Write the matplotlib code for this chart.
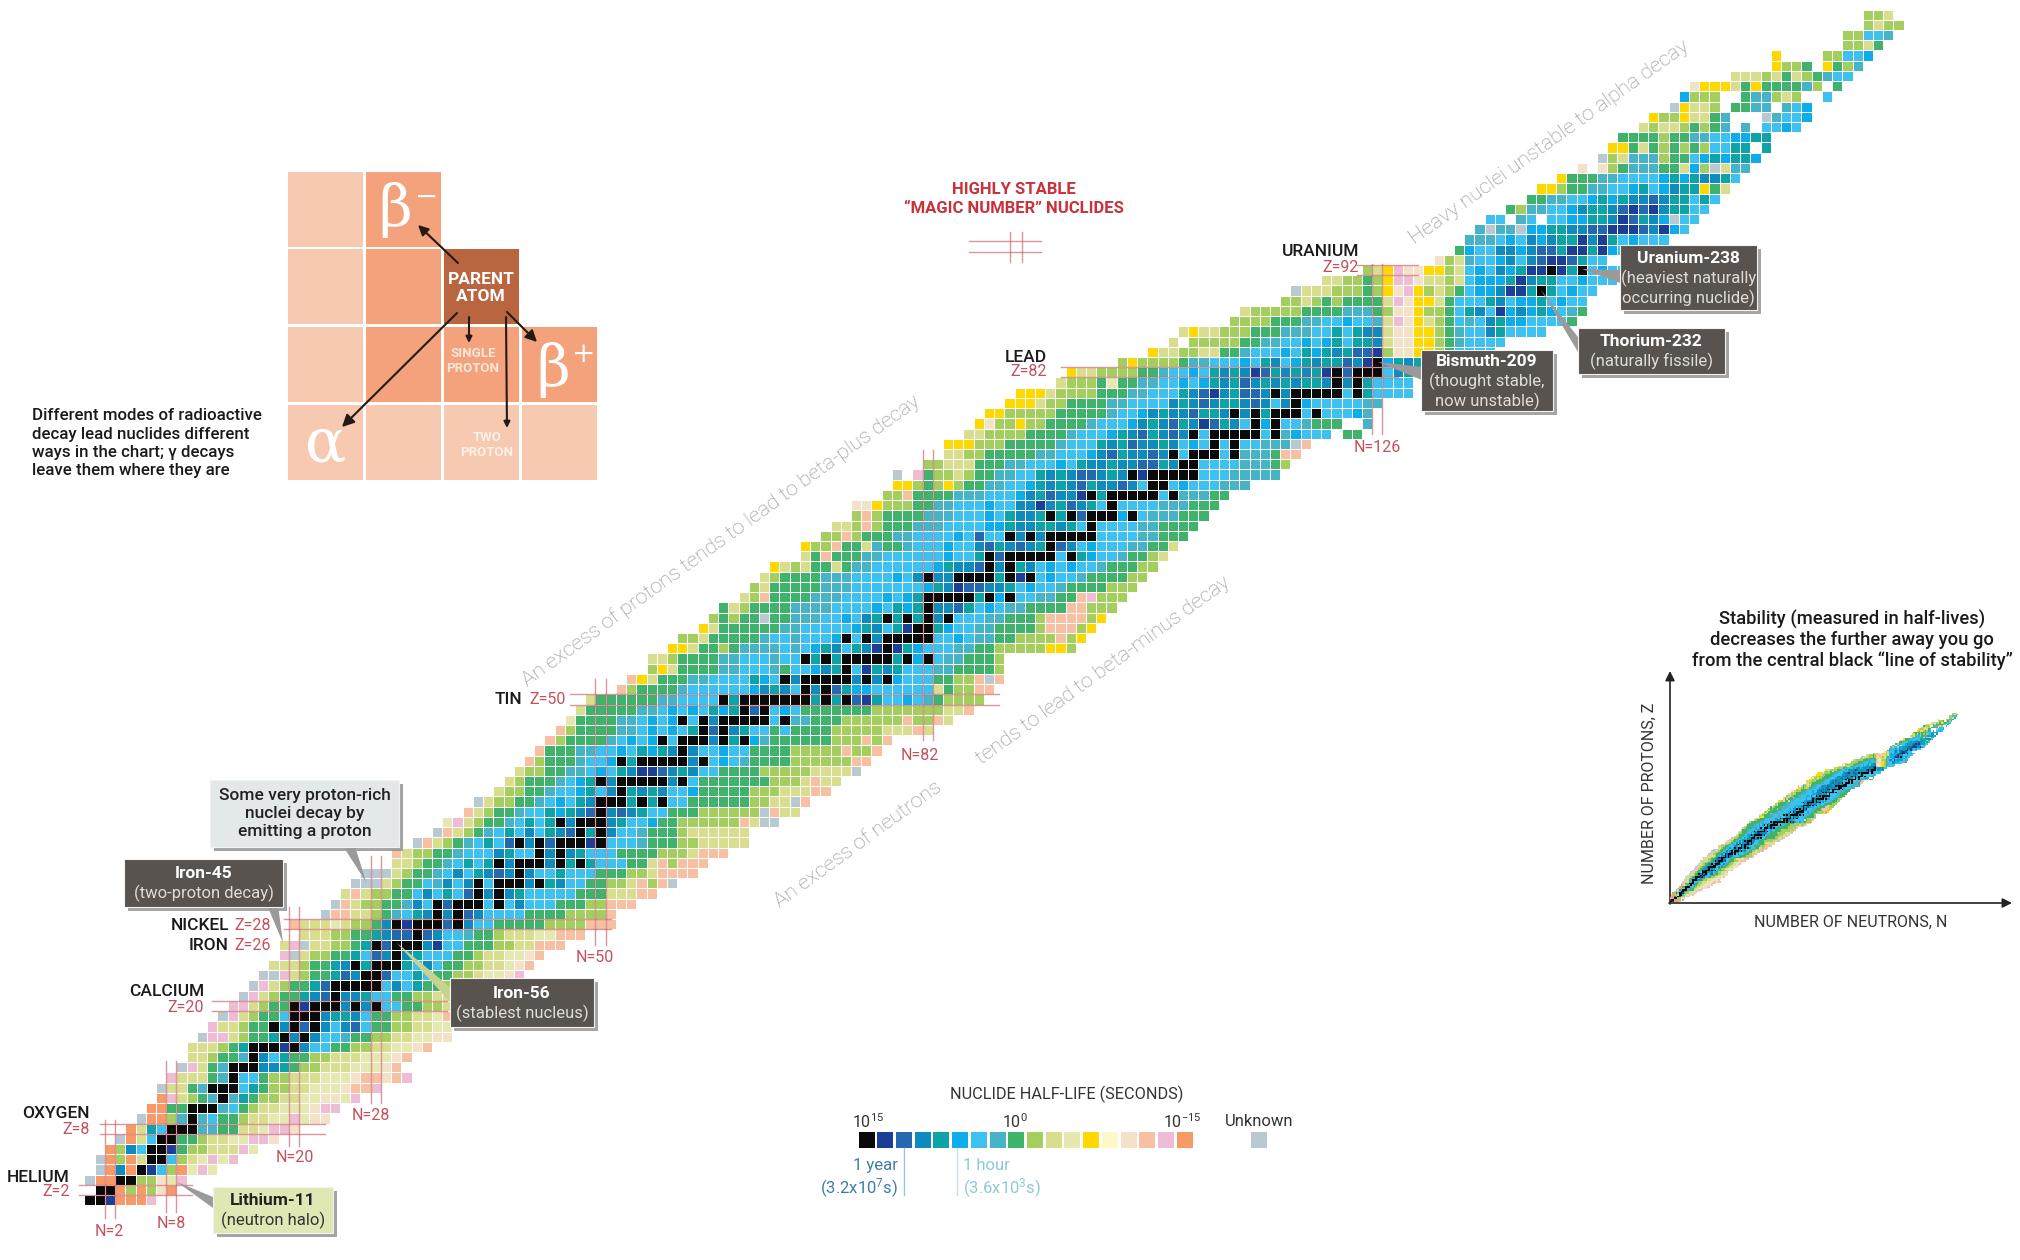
import numpy as np
import matplotlib
matplotlib.use('Agg')
import matplotlib.pyplot as plt
from matplotlib.colors import ListedColormap
from matplotlib.patches import Rectangle, Polygon

plt.rcParams['font.family'] = ['Roboto', 'DejaVu Sans']
plt.rcParams['mathtext.default'] = 'regular'

# half-life classes, longest to shortest, as in the colour key
code_letters = 'KNBCTASLGMOPYWEFRHU'
code_colors = ['#0a0a0a', '#1b3f96', '#2469b0', '#0f8bbd', '#0ea3a6', '#0cadea', '#3cc1f0',
               '#46b4c6', '#3fb26c', '#a4cf5e', '#d8de8e', '#e6e8b2', '#ffd800', '#fdf8c6',
               '#f4e2c8', '#f8c0a2', '#eebcd4', '#f89a68', '#b8c9d2']

# first neutron number of every row, index 0 is Z=1
n_first = [0, 1, 0, 1, 1, 2, 3, 4, 5, 6, 7, 7, 8, 9, 10, 10, 11, 12, 13, 14,
           15, 16, 17, 18, 19, 19, 21, 20, 23, 24, 25, 26, 27, 30, 30, 32, 34, 35, 37, 38,
           40, 41, 42, 43, 44, 45, 46, 47, 48, 49, 52, 53, 55, 55, 57, 58, 60, 61, 62, 64,
           65, 66, 67, 70, 70, 72, 73, 75, 75, 78, 79, 79, 82, 84, 84, 86, 87, 88, 90, 91,
           95, 96, 101, 104, 106, 107, 112, 113, 117, 118, 121, 125, 132, 134, 135, 136, 137, 139, 141, 142,
           144, 146, 148, 149, 150, 152, 153, 155, 156, 157, 161, 165, 165, 172, 172, 174, 174]

# half-life class of each nuclide along a row, index 0 is Z=1 ('.' = nothing drawn)
half_life_rows = [
    'KKNHHHR', 'KKHMHMEH', 'UHHKKMMEPR', 'UHCHKNSMHPRP', 'UHMHOKKSMOPRPR',
    'HMCSKKNGMMOOORP', 'UHOSKKGGMOOPPRRE', 'HOTSKKKLLGGOOPRRE', 'UHHMLKLSGGMOOPPRPEE', 'HHGGKKKLSGMOOPPPERR',
    'HROMGLKLTGMMOOPPEEPR', 'UOOGLKKKSTGMMOOPPPEFFR', 'ROOOGLKSSGMMOOOPPPEFFEFR', 'UROGLKKKCCTGMMOOOPPPEF', 'OOMGGLKCSTGGMMOOOPPPEF',
    'OOOMGTKKKNKCSSGGMMOOPPEF', 'URROMGGTKCKCSSLGGMMOOPPEE', 'ROOMGGKCKBKCSCBSGGMMOOPP', 'UROMGGSKKKCTTCSGGMMOOPF', 'RROMGGKNKKKCKCKSSGGMMOOPF',
    'UROMGGTCBKCCTSSGGMMOOPPEE', 'UROMGGTBKKKKKSCSTGGMMOOPEE', 'UUROMGGTBCKKBSSTSGGMMOPPER', 'OOOMGGTCKTKKKTSCSGGMMOOPEF', 'RUOMMGGTSBCKCTSSSGGMOOPPEF',
    'ORUOOMMGTKBKKKCNSSGGGMMOOFFF', 'OOOMMGGTCBBKBCSSLGGMOOOPPFFF', 'FOOOPOMMGCKNKKKBK CSSGGGGGMMMMFFF', 'UFFOOMGLSTCKCKBCSSS SGGGGMMMMF', 'UFOMMGGLCSKBKKKSKSCSS SGGGMMFFF',
    'OFOMMGGSCSTSBKCKCTSSS SSGGGOOOFF', 'UUUOMGGSLCSCKSKKKCKTCSS GGMMOFMFU', 'UUUOMGGLSCSTCBCKCSSTSSS GGGMMOFFFF', 'OOMGGLSTSTKCKKKCKTKTSS SGGOFMFFF', 'FOMMGGLSSSCTSSKCKCTSS SGGGGMMMOFFF',
    'UFOMGLSTSBKCKBKKKNK SSSLGGGMMOOOOO',
    'UFOMG LSTSCSTC BKTK CSSLGGGMOOOOOO',
    'PROMG GLSTS TACBB CCT SSAGGMMMMMMFOUU',
    'FOMGG LSSTA TCBCC BCTSS GGGMMMMMMUFOO',
    'UOMMG GLSAS TCBBT TCTCS SGGGGGGMMOOUF',
    'OMMGG LSSAT SCBTC TCSSA GGGGGMMMOOOFF',
    'OMGGG LSATS CCTBT TCTS GGGGGGGMMMOFOO',
    'OMMGG LLSAS TCNNB CTCS SGGGGMMMMMOOOOU',
    'FMGGG LSSAS TTCTC TCBSA SLGGGGMMMMMMFF',
    'FGGGL LSSAS TATCB CSSAS SGGGGMMMMMFMMF',
    'FMGGG GLSAS ATSTC TCSTS ALGGGGGGMMMFMF',
    'FMGGG GLLSA SASTC BCCTS SGSGGGGMMMMMOOOFO',
    'PGGGG LLSAS ATSTC CTCTS SALLGGGMMMMMMFMMFO',
    'OGGGG GLLSA SASTA TCBBS ASGGGGGGGMMMMMMMOOF',
    'OGGGG GGLLS SSSAT CCCCC CCTCT CBNTS SASLG MMMM',
    'FMGGG GLSSS SSSAC TCSAC TBTAA SSSSS SOGMMFF',
    'FYOGG GLLSS SSTAS TCCCC CCCBC TASSS GGMMFUF',
    'MYOGG GGLLS SSLGS SACTS SNTCT SSSLLGGGGM',
    'OOMGG GGLLS SSLSS ATCTC TCCNT SASSLLGGGM',
    'YYOGG MGLLL LSLSA TCSTC NCNTA SSSLLGGMMMMMYYM',
    'MMOGG GGGLS SLSSS ACSTC NBCCT SSASLLGGMMMMFMY',
    'YOGGG GGGLL SSSSS ATCST NCTTA SSLLGGGGMFFFMY',
    'MGMGG UGGLL LSSAS CTSTC TCCBS SSLLGGGMFFFFMY',
    'GOMGG GGLLL LSSSS ASTAT TCCBT SASLLGGGGFFMMM',
    'OMFGG GGLLL SSSSA SATCT TCBTC ASSSLLGGFRMMM',
    'MOGGG GGLLL SSSSS SSATC NBBCC TSASSLGGGGMMM',
    'OMGGG GLLLS SSSAS CTCCN BNBTC NCSASSLGGGGMM',
    'YOMOG GOGLL SSSSS SATCC BBCCT CSASASSLGGGMM',
    'OGFGG GLLSS SSSSA SSTCB TCBCB SSTASSLGGMO',
    'YMMFG GOLGG LSSSA SSCBT CBCTT BCSASSSLLGGO',
    'MMFMG GGLLS SSSAS BSSBC NCBTTASSSSSLLGGG',
    'OOMFM GGGLL LSSSS AATCC TTCTSASSSSLLGGGG',
    'MFMGG GGLLL SSSAS TCCTC TCBTS SASSLLLGGG',
    'EEYMM MGGLL SSSAS SCCNC TBCTS ASSSSLLLGGG',
    'MMFGG GGLLL SSSAC TBCCN CTNTS ASSSLLLGG',
    'YYMGM YMGGL LSSAT CTCBT CCBCS CCSAS SSLLL',
    'U.RGM MOMGG LLSST CTCBB CTCCN TSASS SSSLL LLL',
    'MMOOO GGGLL SSSAS TCCTC CBBTC SASSSSLLLGM',
    'OOMMG GGGGL LSSSA CBTCC BCTSA SSSSLLLGFF',
    'YYYMM MGGGG GLSSS TCTBC CTCSA SSSSSSLLLUF',
    'OOMMM MGGGG LSSSA TCBTC BCTSA SSSSS BLASS S.GG',
    'YEMMY MMGGG GLSSS ACTCB TCNBT CSSAS SSLGG G..L',
    'YYMMM MMGGG GGLSS ACTCC BTTCS CTTCA SSSSS SAL',
    'YYYOM MGGGG LLSSS SCTCB CTTCB CSCSA SSSSS LL',
    'YYYOM MMMGG GLLSS STCBN CTBBC TCTSC ASSCT SSSS',
    'OMMMG PGGLL SSASA TCTBC TCTCT TCTCB TSSSS',
    'YOOMM MMGGL SSAST CTCNB TCTCT NCBCN NSCTA C',
    'MYMMM MGLLS SSAST CSATC TTBCN NATCT TSS',
    'YOOMM OOGGL SSSAS TATCT BBN MEEYY MGSSS S',
    'O.MMM MMGGL LSSAS ATSTT C OEEYY MGLSS SS',
    'OYOOM MMGGG LLLSS TSTCC OEEYY MGLSS CTSSS S',
    'MMMMG GGLLS SASSL OREYO MGSLS CTAAS SSSG',
    'OMMMM MGGGG LLLG MEEYM MGSTC SNACA TASLG',
    'MMOMG MGGGG OREYY OGSSS TCSAA TSASS',
    'UOOOM MMGMY ERYMO MGSAA CNNTT TSASS',
    'OOMMG MYRRE OOMOS AAATN CTTSS ASSS',
    'MOYRE EYYMO SASCA TNNKN TKSAS S',
    'EMOLSSACSCBNNBTSS', 'GASSCCACBBTNNTNASS', 'LLLSASCACTTNCNTSASSS', 'LULLUAATTCCBBNNNBCNAS', 'SS.LS.SSAATTCNBTCAUSS',
    'GMLLSSACTTCBNBNCTTSS', 'GGLLSSATATCCBCTTSTS', 'YYMGGLLSSATSACTTYGO', 'YGGGLLSSSSATATCCTS', 'E.EMGLLLGGOAMUOLL',
    'UMOLLLMGGSATATTA', 'YYGOGMGMGMSSTT.T', 'GGGGMGGLLSSAATT', 'OMOOMGMGL.L.SSAS', 'YMMYOOGL...ULSSA',
    'UYOOM.GGLL.LSA', 'AMMM..GLLMOM..S', 'EYYYOGYGGGGLM.G', 'OOOMOGOMGLSS', 'YMMG.YGML',
    'Y....MMSSA', 'MMOG', 'MMSSL', 'MOMM', 'MMO',
]

# stable (black) neutron numbers for the rows where they need setting
stable_z = [20, 22, 23, 24, 25, 26, 27, 28, 29, 30, 31, 32, 33, 34, 35, 36, 37, 38, 39, 40, 41, 42,
            44, 45, 46, 47, 48, 49, 50, 51, 52, 53, 54, 55, 56, 57, 58, 59, 60, 62, 63, 64, 65, 66,
            67, 68, 69, 70, 71, 72, 73, 74, 75, 76, 77, 78, 79, 80, 81, 82, 83, 90, 92]
stable_n = [
    [20, 22, 23, 24, 26, 28], [24, 25, 26, 27, 28], [27, 28], [26, 28, 29, 30], [30], [28, 30, 31, 32], [32],
    [30, 32, 33, 34, 36], [34, 36], [34, 36, 37, 38, 40], [38, 40], [38, 40, 41, 42, 44], [42],
    [40, 42, 43, 44, 46, 48], [44, 46], [42, 44, 46, 47, 48, 50], [48, 50], [46, 48, 49, 50], [50],
    [50, 51, 52, 54, 56], [52], [50, 52, 53, 54, 55, 56, 58], [52, 54, 55, 56, 57, 58, 60], [58],
    [56, 58, 59, 60, 62, 64], [60, 62], [58, 60, 62, 63, 64, 65, 66, 68], [64, 66],
    [62, 64, 65, 66, 67, 68, 69, 70, 72, 74], [70, 72], [68, 70, 71, 72, 73, 74, 76, 78], [74],
    [70, 72, 74, 75, 76, 77, 78, 80, 82], [78], [74, 76, 78, 79, 80, 81, 82], [81, 82], [78, 80, 82, 84], [82],
    [82, 83, 84, 85, 86, 88, 90], [82, 85, 86, 87, 88, 90, 92], [88, 90], [88, 90, 91, 92, 93, 94, 96], [94],
    [90, 92, 94, 95, 96, 97, 98], [98], [94, 96, 98, 99, 100, 102], [100], [98, 100, 101, 102, 103, 104, 106],
    [104, 105], [102, 104, 105, 106, 107, 108], [107, 108], [106, 108, 109, 110, 112], [110, 112],
    [108, 110, 111, 112, 113, 114, 116], [114, 116], [112, 114, 116, 117, 118, 120], [118], [116, 118, 119, 120, 121, 122, 124],
    [122, 124], [122, 124, 125, 126], [126], [142], [143, 146],
]

magic_z = [2, 8, 20, 28, 50, 82, 92]
magic_z_from = [-1, 1, 12, 19, 47, 95, 124]
magic_z_to = [10, 23, 35, 51, 89, 128, 130]
magic_n = [2, 8, 20, 28, 50, 82, 126]
magic_n_from = [-0.7, -0.2, 6.3, 10.5, 26, 46, 76]
magic_n_to = [8.8, 14.6, 29.7, 34.7, 52, 74.4, 92.6]

# build the N/Z table
table = np.full((119, 179), np.nan)
for i, row in enumerate(half_life_rows):
    row = row.replace(' ', '')
    for j, c in enumerate(row):
        if c != '.':
            table[i + 1, n_first[i] + j] = code_letters.index(c)
for z, ns in zip(stable_z, stable_n):
    for n in ns:
        table[z, n] = 0
cells = np.ma.masked_invalid(table)
cmap = ListedColormap(code_colors)

fig = plt.figure(figsize=(20.2, 12.6), dpi=100, facecolor='white')

# main chart, one cell = 10.22 px
ax = fig.add_axes([0, 0, 1, 1])
ax.set_xlim(-89.6 / 10.22, (2020 - 89.6) / 10.22)
ax.set_ylim((1210.4 - 1260) / 10.22, 1210.4 / 10.22)
ax.axis('off')
n_edges = np.arange(180) - 0.5
z_edges = np.arange(120) - 0.5
ax.pcolormesh(n_edges, z_edges, cells, cmap=cmap, vmin=-0.5, vmax=18.5,
              edgecolors='white', linewidth=0.7)

red = '#c4505c'
for z, a, b in zip(magic_z, magic_z_from, magic_z_to):
    ax.plot([a, b], [z - 0.5, z - 0.5], color=red, lw=1, alpha=0.6)
    ax.plot([a, b], [z + 0.5, z + 0.5], color=red, lw=1, alpha=0.6)
for n, a, b in zip(magic_n, magic_n_from, magic_n_to):
    ax.plot([n - 0.5, n - 0.5], [a, b], color=red, lw=1, alpha=0.6)
    ax.plot([n + 0.5, n + 0.5], [a, b], color=red, lw=1, alpha=0.6)

# everything else sits on a pixel overlay
ann = fig.add_axes([0, 0, 1, 1], facecolor='none')
ann.set_xlim(0, 2020)
ann.set_ylim(1260, 0)
ann.axis('off')


def txt(x, y, s, size=12, color='#222222', ha='center', weight='normal', **kw):
    ann.text(x, y, s, fontsize=size, color=color, ha=ha, va='center', fontweight=weight, **kw)


# element and magic number labels
element_labels = [('HELIUM', 70, 1177), ('OXYGEN', 90, 1114), ('CALCIUM', 204, 992), ('NICKEL', 229, 925),
                  ('IRON', 229, 945), ('TIN', 522, 700), ('LEAD', 1047, 357), ('URANIUM', 1359, 252)]
z_labels = [('Z=2', 70, 1192), ('Z=8', 90, 1129), ('Z=20', 204, 1007), ('Z=28', 271, 925),
            ('Z=26', 271, 945), ('Z=50', 566, 699), ('Z=82', 1047, 371), ('Z=92', 1359, 268)]
n_labels = [('N=2', 109, 1231), ('N=8', 171, 1224), ('N=20', 295, 1158), ('N=28', 371, 1115),
            ('N=50', 595, 957), ('N=82', 920, 755), ('N=126', 1377, 447)]
for s, x, y in element_labels:
    txt(x, y, s, size=12.5, ha='right', weight='medium', color='#1a1a1a')
for s, x, y in z_labels:
    txt(x, y, s, size=11.5, ha='right', color='#c4505c')
for s, x, y in n_labels:
    txt(x, y, s, size=11.5, color='#c4505c')

# grey diagonal notes
grey = '#8e8e8e'
txt(1549, 142, 'Heavy nuclei unstable to alpha decay', size=15.3, color=grey, weight='light', rotation=35.4, rotation_mode='anchor')
txt(721, 541, 'An excess of protons tends to lead to beta-plus decay', size=15.2, color=grey, weight='light', rotation=35.7, rotation_mode='anchor')
txt(858, 844, 'An excess of neutrons', size=15.2, color=grey, weight='light', rotation=36, rotation_mode='anchor')
txt(1103, 670, 'tends to lead to beta-minus decay', size=15.2, color=grey, weight='light', rotation=35.8, rotation_mode='anchor')

# magic number key
txt(1014, 199, 'HIGHLY STABLE\n\u201cMAGIC NUMBER\u201d NUCLIDES', size=12, color='#c8323c', weight='bold', linespacing=1.4)
for y in (241, 252):
    ann.plot([969, 1041], [y, y], color=red, lw=1, alpha=0.6)
for x in (1010, 1022):
    ann.plot([x, x], [232, 262], color=red, lw=1, alpha=0.6)

# decay mode diagram
pale, mid, parent = '#f6c9b0', '#f3a27c', '#b9653f'
col_x = [288, 366, 444, 522]
row_y = [172, 249, 327, 405]
decay_grid = [[pale, mid, None, None], [pale, mid, parent, None], [pale, mid, mid, mid], [pale, pale, pale, pale]]
for r, cols in enumerate(decay_grid):
    for c, col in enumerate(cols):
        if col:
            ann.add_patch(Rectangle((col_x[c], row_y[r]), 75, 75, facecolor=col, edgecolor='none'))
txt(395, 210, '\u03b2', size=42, color='white', family='DejaVu Serif')
txt(427, 197, '\u2212', size=20, color='white', family='DejaVu Serif')
txt(553, 370, '\u03b2', size=42, color='white', family='DejaVu Serif')
txt(584, 355, '+', size=20, color='white', family='DejaVu Serif')
txt(326, 445, '\u03b1', size=44, color='white', family='DejaVu Serif')
txt(481, 288, 'PARENT\nATOM', size=12.5, color='white', weight='bold', linespacing=1.2)
txt(473, 361, 'SINGLE\nPROTON', size=9.5, color='#fbe6da', weight='bold', linespacing=1.25)
txt(487, 445, 'TWO\nPROTON', size=9.5, color='#fdf0e8', weight='bold', linespacing=1.25)
for start, end, ms in [((458, 263), (418, 225), 15), ((457, 313), (342, 427), 18), ((469, 317), (469, 343), 9),
                       ((506, 317), (507, 428), 9), ((507, 312), (537, 342), 17)]:
    ann.annotate('', xy=end, xytext=start,
                 arrowprops=dict(arrowstyle='-|>', color='#231a16', lw=1.5, mutation_scale=ms, shrinkA=0, shrinkB=0))
txt(32, 443, 'Different modes of radioactive\ndecay lead nuclides different\nways in the chart; \u03b3 decays\nleave them where they are',
    size=12.2, ha='left', weight='medium', color='#1a1a1a', linespacing=1.25)


# callouts
def callout(x0, y0, x1, y1, tip, base, head, sub, face='#58534f', col='white', subcol='#dfdcd8', wedge=None):
    ann.add_patch(Rectangle((x0 + 4, y0 + 4), x1 - x0, y1 - y0, facecolor='#8e8e8e', edgecolor='none', alpha=0.8))
    ann.add_patch(Polygon([tip, base[0], base[1]], closed=True, facecolor=wedge or '#9a9a9a', edgecolor='none'))
    ann.add_patch(Rectangle((x0, y0), x1 - x0, y1 - y0, facecolor=face, edgecolor='#f2f2f2', lw=0.8))
    if sub:
        n_sub = sub.count('\n') + 1
        step = 19
        top = (y0 + y1) / 2 - step * n_sub / 2
        txt((x0 + x1) / 2, top, head, size=12.5, color=col, weight='bold')
        txt((x0 + x1) / 2, top + step * (n_sub + 1) / 2 + 1, sub, size=12, color=subcol, linespacing=1.2)
    else:
        txt((x0 + x1) / 2, (y0 + y1) / 2, head, size=12.5, color=col, weight='medium', linespacing=1.25)


callout(1620, 245, 1757, 310, (1582, 269), ((1620, 270), (1620, 283)), 'Uranium-238', '(heaviest naturally\noccurring nuclide)')
callout(1578, 328, 1725, 374, (1541, 290), ((1578, 337), (1578, 352)), 'Thorium-232', '(naturally fissile)')
callout(1421, 350, 1553, 411, (1378, 362), ((1422, 367), (1422, 380)), 'Bismuth-209', '(thought stable,\nnow unstable)')
callout(124, 859, 283, 907, (283, 943), ((267, 905), (278, 905)), 'Iron-45', '(two-proton decay)')
callout(450, 978, 594, 1027, (397, 943), ((450, 987), (450, 1002)), 'Iron-56', '(stablest nucleus)', wedge='#c4d48e')
callout(210, 780, 399, 847, (366, 882), ((343, 846), (355, 846)), 'Some very proton-rich\nnuclei decay by\nemitting a proton', None,
        face='#e3e8ea', col='#222222')
callout(213, 1187, 333, 1233, (177, 1182), ((213, 1197), (213, 1208)), 'Lithium-11', '(neutron halo)',
        face='#dfe8b4', col='#222222', subcol='#333333')

# colour key
key_x = 866.5 + 18.72 * np.arange(18)
for x, col in zip(key_x, code_colors[:18]):
    ann.add_patch(Rectangle((x - 8, 1132), 16, 16, facecolor=col, edgecolor='none'))
ann.add_patch(Rectangle((1251, 1132), 16, 16, facecolor=code_colors[18], edgecolor='none'))
txt(1067, 1094, 'NUCLIDE HALF-LIFE (SECONDS)', size=11.7, color='#333333')
txt(868, 1122, '$10^{15}$', size=11.5, color='#333333')
txt(1015, 1122, '$10^{0}$', size=11.5, color='#333333')
txt(1182, 1122, '$10^{-15}$', size=11.5, color='#333333')
txt(1259, 1122, 'Unknown', size=12, color='#333333')
ann.plot([904, 904], [1148, 1195], color='#9fc4d8', lw=1)
ann.plot([957, 957], [1148, 1195], color='#bfe2ec', lw=1)
txt(898, 1179, '1 year\n(3.2x10$^{7}$s)', size=12, color='#3f7ca8', ha='right', linespacing=1.25, multialignment='right')
txt(963, 1179, '1 hour\n(3.6x10$^{3}$s)', size=12, color='#8fc9d8', ha='left', linespacing=1.25)

# small overview of the same table
inset = fig.add_axes([1670 / 2020, (1260 - 903) / 1260, 288 / 2020, 190 / 1260])
inset.set_xlim(0, 177)
inset.set_ylim(0, 117)
inset.axis('off')
inset.pcolormesh(n_edges, z_edges, cells, cmap=cmap, vmin=-0.5, vmax=18.5)

txt(1852, 640, 'Stability (measured in half-lives)\ndecreases the further away you go\nfrom the central black \u201cline of stability\u201d',
    size=13.2, weight='medium', color='#1a1a1a', linespacing=1.17)
ann.annotate('', xy=(1670, 671), xytext=(1670, 904),
             arrowprops=dict(arrowstyle='-|>', color='#222222', lw=1.2, mutation_scale=14, shrinkA=0, shrinkB=0))
ann.annotate('', xy=(2012, 903), xytext=(1669, 903),
             arrowprops=dict(arrowstyle='-|>', color='#222222', lw=1.2, mutation_scale=14, shrinkA=0, shrinkB=0))
txt(1649, 793, 'NUMBER OF PROTONS, Z', size=11.5, color='#333333', rotation=90)
txt(1851, 922, 'NUMBER OF NEUTRONS, N', size=11.5, color='#333333')

fig.savefig('out.png', dpi=100)
